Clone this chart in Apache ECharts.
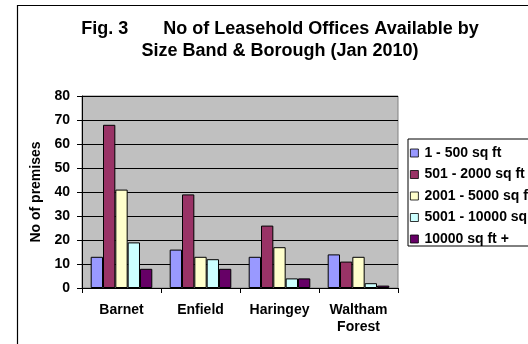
<!DOCTYPE html>
<html>
<head>
<meta charset="utf-8">
<script src="https://cdn.jsdelivr.net/npm/echarts@6/dist/echarts.min.js"></script>
<style>html,body{margin:0;padding:0;background:#fff;}#c{width:528px;height:344px;}</style>
</head>
<body>
<div id="c"></div>
<script>
const categories = ['Barnet', 'Enfield', 'Haringey', 'Waltham\nForest'];
const seriesNames = ['1 - 500 sq ft', '501 - 2000 sq ft', '2001 - 5000 sq ft', '5001 - 10000 sq ft', '10000 sq ft +'];
const band1 = [13, 16, 13, 14];
const band2 = [68, 39, 26, 11];
const band3 = [41, 13, 17, 13];
const band4 = [19, 12, 4, 2];
const band5 = [8, 8, 4, 1];
const colors = ['#9999FF', '#993366', '#FFFFCC', '#CCFFFF', '#660066'];
const yTicks = [0, 10, 20, 30, 40, 50, 60, 70, 80];

const values = [band1, band2, band3, band4, band5];
const font = 'Liberation Sans, Arial, sans-serif';
const chart = echarts.init(document.getElementById('c'), null, {renderer: 'canvas'});
chart.setOption({
  animation: false,
  backgroundColor: '#ffffff',
  graphic: [{
    type: 'rect', shape: {x: 17.5, y: 5.5, width: 600, height: 400},
    style: {fill: 'none', stroke: '#000', lineWidth: 1.2}, z: -1
  }],
  title: {
    text: 'Fig. 3       No of Leasehold Offices Available by\nSize Band & Borough (Jan 2010)',
    left: 275, top: 13, textAlign: 'center',
    textStyle: {fontFamily: font, fontWeight: 'bold', fontSize: 18, lineHeight: 22, color: '#000'}
  },
  legend: {
    orient: 'vertical', left: 408, top: 139,
    padding: [7, 60, 0, 2],
    borderColor: '#000', borderWidth: 1,
    itemWidth: 8, itemHeight: 8, itemGap: 7.5,
    icon: 'rect',
    itemStyle: {borderColor: '#000', borderWidth: 0.8},
    textStyle: {fontFamily: font, fontWeight: 'bold', fontSize: 14, lineHeight: 14, color: '#000', padding: [0, 0, 0, 1]},
    data: seriesNames
  },
  grid: {left: 82, top: 96, right: 130, bottom: 56, show: true, backgroundColor: '#C0C0C0', borderColor: '#808080', borderWidth: 1},
  xAxis: {
    type: 'category', data: categories,
    axisLine: {lineStyle: {color: '#000', width: 1}},
    axisTick: {show: true, length: 5, lineStyle: {color: '#000'}},
    axisLabel: {fontFamily: font, fontWeight: 'bold', fontSize: 14, color: '#000', margin: 14, lineHeight: 17}
  },
  yAxis: {
    type: 'value', min: yTicks[0], max: yTicks[yTicks.length - 1], interval: 10,
    name: 'No of premises', nameLocation: 'middle', nameGap: 33, nameRotate: 90,
    nameTextStyle: {fontFamily: font, fontWeight: 'bold', fontSize: 14, color: '#000'},
    axisLine: {show: true, lineStyle: {color: '#000', width: 1}},
    axisTick: {show: true, length: 5, lineStyle: {color: '#000'}},
    axisLabel: {fontFamily: font, fontWeight: 'bold', fontSize: 14, color: '#000', margin: 12},
    splitLine: {show: true, lineStyle: {color: '#000', width: 1}}
  },
  series: seriesNames.map((n, i) => ({
    name: n, type: 'bar', data: values[i],
    barGap: '0%', barCategoryGap: '22%',
    itemStyle: {color: colors[i], borderColor: '#000', borderWidth: 1}
  }))
});
</script>
</body>
</html>
